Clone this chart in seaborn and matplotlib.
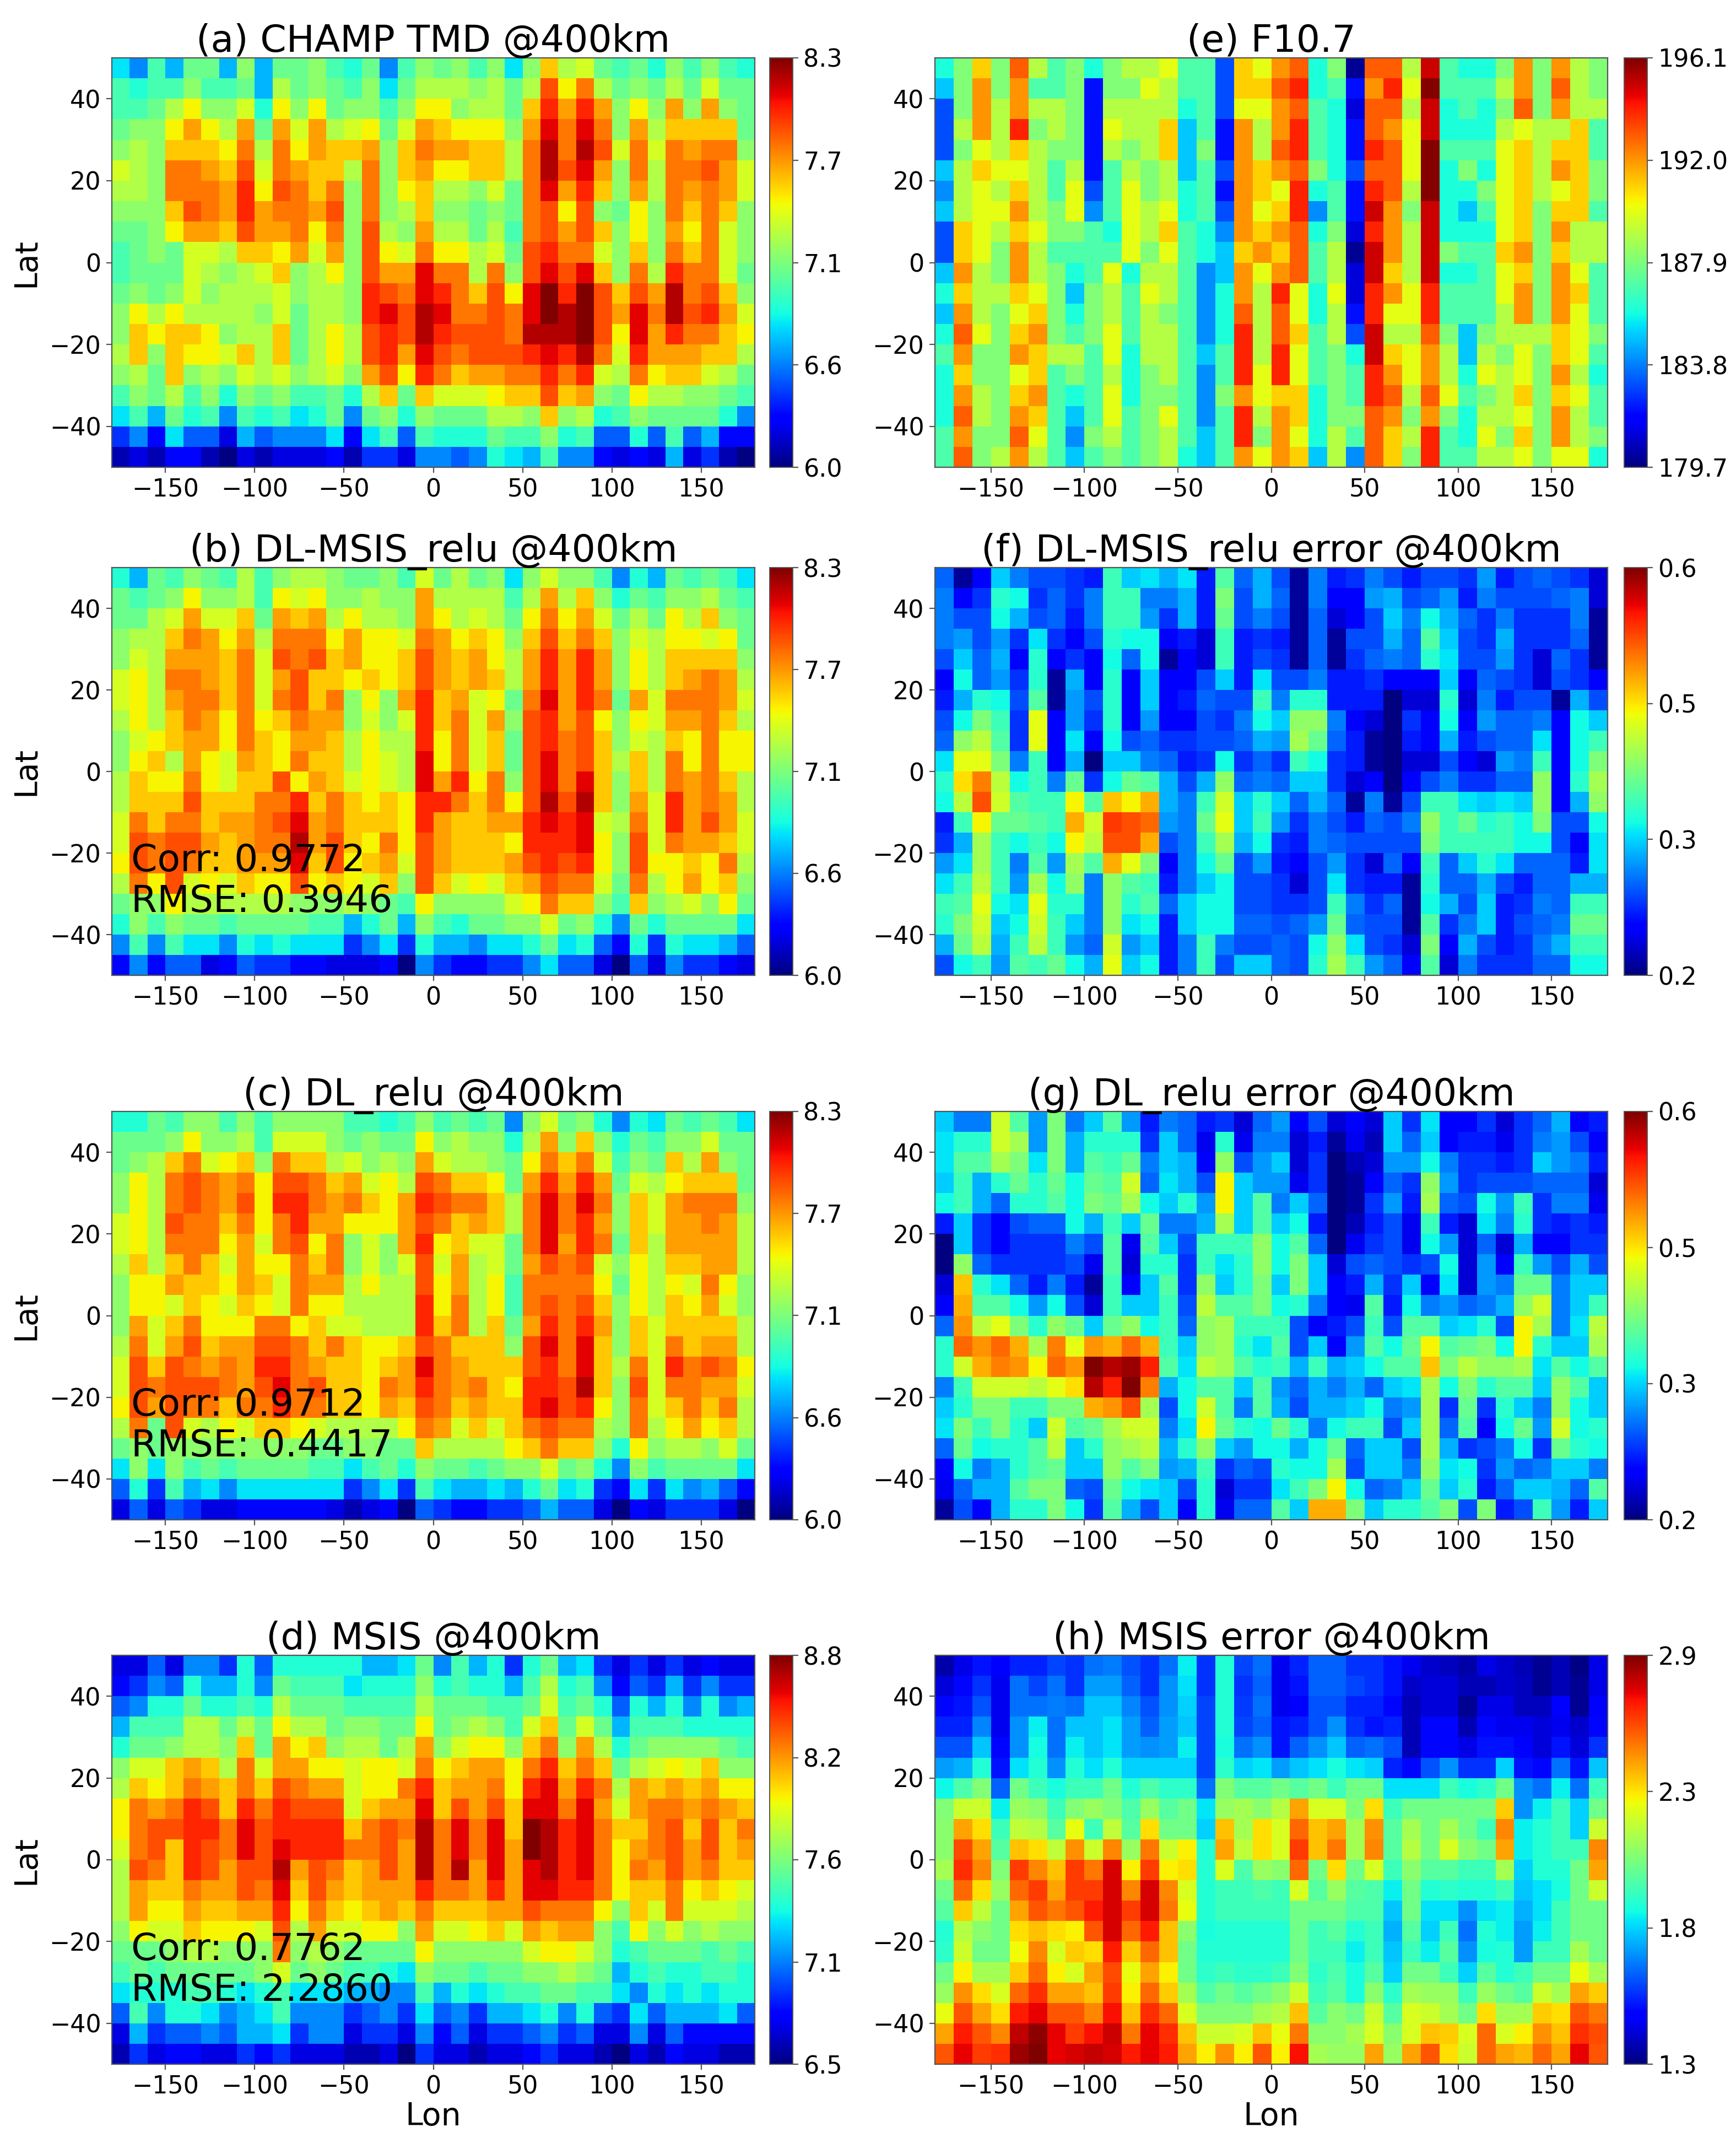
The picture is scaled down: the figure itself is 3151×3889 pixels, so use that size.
import numpy as np
import pandas as pd
import matplotlib
matplotlib.use("Agg")
import matplotlib.pyplot as plt
import seaborn as sns

# cells run from 180W to 180E, top row is 45..50N
lon_cells = list(range(-175, 180, 10))
lat_cells = list(range(475, -500, -50))
lon_ticks = [-150, -100, -50, 0, 50, 100, 150]
lat_ticks = [40, 20, 0, -20, -40]

champ_tmd = [
    [68,66,70,67,71,71,67,72,67,71,71,72,70,69,71,66,70,72,71,72,70,72,68,72,76,73,74,71,70,71,69,72,70,72,70,69],
    [70,69,70,70,72,70,70,71,67,73,71,72,71,70,72,68,71,73,73,73,72,73,71,73,79,75,78,73,71,72,71,73,71,74,71,71],
    [70,70,71,73,75,72,72,74,69,75,72,75,71,72,72,70,72,75,75,72,73,73,71,76,80,77,80,77,72,75,72,77,72,77,72,71],
    [71,72,72,75,77,75,73,77,71,77,74,77,73,74,75,71,74,77,76,75,75,75,72,77,81,78,81,78,72,77,73,76,76,76,76,71],
    [72,73,72,76,76,76,75,78,73,78,75,77,76,76,77,72,76,78,77,77,76,76,73,78,82,78,82,79,74,78,74,78,77,78,78,72],
    [74,73,72,78,78,77,76,79,74,78,77,76,76,73,78,72,76,77,75,75,76,76,73,78,82,79,81,77,72,78,73,78,78,79,77,74],
    [73,73,72,78,78,78,77,80,75,79,78,76,78,72,78,72,75,76,73,73,72,74,71,78,81,77,80,76,72,77,73,78,77,78,77,74],
    [72,72,72,76,79,78,77,80,77,78,78,77,79,72,78,72,73,76,72,72,71,72,71,78,79,75,79,72,71,75,72,78,76,78,76,72],
    [71,71,72,75,77,77,76,79,77,77,78,75,78,72,79,73,72,77,73,73,71,73,70,78,79,77,79,76,72,75,72,77,75,78,74,72],
    [70,71,72,71,74,74,73,76,76,75,77,74,77,72,79,75,74,78,75,75,73,74,71,79,80,78,78,74,72,76,72,78,76,78,74,72],
    [70,71,71,71,74,73,72,73,74,76,72,73,75,72,79,77,77,81,78,78,73,78,72,79,81,79,81,76,72,78,73,80,78,78,74,71],
    [71,72,71,72,74,72,73,73,73,74,72,73,73,72,80,79,78,81,80,78,76,79,75,81,83,80,83,79,76,79,77,82,78,79,76,72],
    [72,75,73,75,73,73,73,73,72,74,71,73,73,72,80,81,79,82,81,78,78,79,78,81,83,82,83,79,77,81,78,82,79,80,77,74],
    [72,76,75,76,76,75,72,73,73,76,71,73,75,73,79,80,79,82,80,79,79,79,78,82,82,82,83,79,75,81,77,80,78,78,76,75],
    [73,76,72,76,75,75,74,76,73,76,71,73,75,73,79,80,77,81,79,78,79,79,79,80,81,80,82,78,74,80,77,77,77,76,76,73],
    [72,73,71,76,72,73,72,74,73,74,72,73,74,72,77,79,75,80,78,76,77,77,78,78,80,78,80,74,73,78,75,76,76,74,73,71],
    [70,72,71,73,70,72,69,72,71,72,70,70,71,69,73,76,71,76,74,74,74,75,76,76,79,76,77,72,71,75,73,73,72,72,71,70],
    [68,70,67,71,69,70,66,70,69,70,68,69,71,66,71,72,69,72,71,71,71,73,73,72,76,72,73,69,70,72,71,71,71,71,69,66],
    [64,66,63,68,65,65,62,67,65,66,66,66,68,63,68,70,65,70,69,69,69,71,70,70,72,69,70,65,65,69,65,70,65,67,63,63],
    [61,62,61,63,63,61,60,62,61,62,62,62,63,61,64,64,62,66,66,65,66,69,68,67,70,66,66,63,62,63,62,67,62,64,61,60],
]

dl_msis = [
    [69,67,71,70,72,71,70,73,70,72,73,73,72,71,71,72,70,74,71,73,71,72,68,72,74,72,72,70,66,69,67,71,70,71,70,68],
    [71,70,71,72,75,72,72,73,70,75,74,75,72,72,73,72,72,77,73,73,73,73,70,73,77,73,76,72,69,71,70,72,72,73,71,70],
    [71,71,73,74,77,74,74,76,71,77,76,77,73,75,73,73,72,77,75,73,74,73,71,75,78,75,77,74,71,73,71,75,73,76,72,71],
    [72,73,73,76,78,77,75,77,73,78,78,78,75,77,75,75,74,78,77,75,76,75,72,76,79,76,78,76,72,74,73,75,75,74,75,71],
    [72,74,73,77,77,77,76,78,74,79,78,79,76,77,75,75,76,79,77,76,77,75,73,77,80,77,80,77,72,75,73,76,76,76,76,72],
    [74,75,73,78,78,77,76,78,74,77,79,76,76,75,76,75,76,79,77,76,77,76,73,77,80,77,80,77,72,75,73,76,77,78,77,73],
    [74,75,73,77,78,78,76,78,74,78,79,76,78,72,75,72,77,80,76,77,74,75,71,78,81,77,80,78,71,77,74,78,78,78,77,74],
    [73,75,73,76,78,77,75,78,75,76,78,77,77,72,74,72,74,80,76,78,74,77,72,79,80,77,79,75,72,75,74,77,77,78,76,73],
    [72,74,75,76,77,77,75,78,76,75,77,77,76,73,75,73,73,80,75,78,74,76,71,79,80,78,79,76,72,74,73,76,75,78,75,75],
    [72,75,76,73,77,75,74,77,76,75,78,76,76,73,75,74,73,81,75,78,74,76,71,79,81,78,79,76,73,76,73,78,75,78,75,75],
    [73,76,75,75,78,75,74,76,76,79,75,77,76,74,75,74,73,81,77,80,75,78,72,79,81,78,81,76,72,76,73,78,77,78,76,73],
    [73,76,76,76,79,76,76,76,78,78,80,76,78,76,75,76,75,80,80,78,76,78,75,79,82,79,82,76,72,77,74,80,77,78,77,73],
    [74,78,76,78,78,76,77,77,78,79,81,77,78,76,76,76,75,80,77,76,76,77,77,80,81,80,81,74,73,78,74,80,77,79,77,74],
    [74,79,78,79,79,77,76,77,78,78,82,77,79,76,75,78,75,79,77,76,76,76,75,80,80,80,81,75,72,79,74,78,77,77,76,74],
    [75,79,78,79,78,76,76,77,77,77,81,76,79,75,76,77,74,79,77,76,76,76,77,79,80,79,80,75,72,79,75,75,76,75,78,73],
    [73,78,75,79,74,75,74,76,75,75,79,75,76,75,74,76,72,79,76,74,75,74,76,77,79,78,78,74,71,78,73,75,77,75,76,72],
    [71,72,72,75,73,73,73,73,73,73,72,72,72,73,72,71,70,75,72,72,72,72,74,75,78,76,76,72,70,76,72,73,74,72,75,71],
    [69,72,70,72,71,71,70,71,71,71,71,70,70,67,69,71,67,72,70,69,71,71,72,72,74,71,72,69,66,71,69,71,71,71,71,68],
    [66,70,66,70,68,68,66,69,68,69,68,68,68,64,66,68,64,69,67,67,66,68,68,69,71,68,69,65,63,69,64,69,68,68,67,65],
    [63,66,63,65,65,62,63,65,64,64,63,63,62,62,62,63,60,66,64,63,63,64,64,66,68,65,65,62,60,65,62,66,64,64,63,62],
]

dl_relu = [
    [69,69,71,70,72,72,70,72,70,72,72,72,72,70,70,69,70,72,70,71,70,71,66,72,74,71,72,69,66,69,68,71,70,71,70,68],
    [71,71,71,72,75,72,72,73,70,74,74,74,72,71,72,71,71,75,72,73,72,72,69,73,77,72,76,72,69,71,70,72,72,74,71,71],
    [71,72,73,76,78,74,75,76,72,78,76,76,73,74,72,73,72,77,74,73,73,72,71,75,78,76,78,74,70,72,71,76,73,77,72,71],
    [72,75,73,78,79,78,77,78,75,79,79,78,76,77,74,75,73,79,78,76,76,75,71,77,80,77,80,77,71,74,73,75,76,76,76,71],
    [72,75,73,78,79,78,77,79,75,80,80,78,77,78,76,75,77,80,79,78,78,76,73,78,81,78,81,78,72,76,74,77,78,78,78,72],
    [74,75,73,79,78,78,76,78,75,78,80,77,77,75,75,75,77,79,78,76,77,76,73,78,81,78,80,77,72,76,74,77,77,78,77,73],
    [74,75,73,78,78,78,75,77,74,78,79,75,78,72,74,72,77,80,75,76,74,74,71,78,81,77,80,78,71,76,73,77,77,77,77,73],
    [73,76,73,76,78,76,74,77,75,75,78,76,78,72,74,72,74,79,74,77,73,74,71,77,79,78,79,74,72,75,73,76,76,77,77,73],
    [72,75,75,77,76,76,75,77,76,74,78,77,77,73,75,73,73,79,75,77,73,75,70,78,78,78,78,75,71,75,73,75,74,78,75,72],
    [72,75,75,74,76,75,74,76,75,74,78,75,75,73,73,73,73,80,75,78,73,75,70,78,79,78,79,76,72,75,73,76,75,77,74,72],
    [72,77,74,76,78,75,75,75,78,78,75,76,74,74,73,73,73,80,76,78,73,76,71,77,80,78,80,77,72,76,74,76,76,76,76,73],
    [73,78,74,77,79,76,77,77,79,79,78,76,78,76,75,75,76,79,78,76,76,76,72,79,81,78,81,76,72,76,74,78,76,77,77,73],
    [74,79,76,79,78,77,78,77,80,80,78,77,76,76,75,76,77,81,78,77,76,76,76,79,80,78,81,76,73,78,74,80,78,79,78,75],
    [74,79,78,79,79,79,78,77,79,81,78,79,76,76,75,78,77,80,78,77,78,76,75,80,80,79,82,76,72,79,74,78,78,77,77,74],
    [75,79,77,79,78,78,76,78,78,80,78,78,76,76,75,77,76,79,78,76,77,76,76,80,81,79,80,75,72,78,74,76,78,76,78,73],
    [73,78,71,79,74,73,75,74,76,76,75,74,73,73,73,73,75,78,77,74,76,74,76,78,79,78,78,73,72,78,73,75,77,75,76,73],
    [71,72,71,72,72,72,72,72,72,72,72,71,71,72,72,71,71,76,73,73,73,73,75,76,78,76,76,72,69,75,72,73,73,72,74,71],
    [68,72,68,72,70,71,70,71,71,71,71,70,70,68,70,71,69,72,71,71,70,71,72,72,74,71,72,69,66,72,70,71,71,71,71,68],
    [65,69,64,70,67,68,66,68,68,68,68,68,68,64,66,68,64,70,68,67,67,68,67,69,71,68,69,64,63,68,64,68,66,67,65,63],
    [62,65,62,65,64,62,62,63,63,63,63,63,62,61,62,63,60,65,64,63,63,64,64,65,67,65,65,62,60,63,62,64,64,64,62,60],
]

msis = [
    [67,67,70,67,71,71,69,74,70,74,74,74,74,74,72,72,73,76,71,75,72,74,69,74,76,72,73,69,67,69,67,69,67,68,67,67],
    [68,69,71,70,74,72,72,74,71,76,75,75,75,73,74,74,74,77,74,75,74,74,72,75,78,74,75,71,68,70,69,72,69,71,69,69],
    [70,71,74,74,76,74,74,75,74,78,76,76,76,75,75,75,75,78,76,76,76,75,75,76,79,75,76,74,70,74,72,74,71,74,71,72],
    [72,75,75,75,78,78,76,78,76,80,78,78,76,77,77,76,76,80,76,77,78,77,75,79,81,76,79,76,72,75,75,75,74,74,74,74],
    [74,76,76,77,78,78,77,81,76,82,80,81,77,78,78,76,78,82,77,79,80,80,77,81,83,77,82,78,74,76,77,77,77,77,76,75],
    [77,79,79,81,82,81,78,83,79,82,82,80,80,79,80,80,79,83,80,81,82,82,80,83,85,81,83,81,76,78,79,80,79,81,77,77],
    [78,81,80,81,83,82,81,83,81,84,83,82,82,79,80,80,83,85,81,82,82,83,80,85,86,82,85,83,78,82,81,82,81,82,80,80],
    [80,83,82,83,85,84,81,85,83,85,84,84,84,79,81,82,82,86,81,84,82,84,81,86,86,83,86,82,79,82,83,83,82,83,82,81],
    [80,83,84,84,85,85,83,86,84,85,85,85,85,81,83,84,83,87,83,86,83,86,81,88,87,85,86,83,81,81,83,84,81,84,81,83],
    [79,83,84,81,85,84,83,86,84,86,85,85,85,83,83,84,82,87,83,86,83,86,82,88,87,85,86,83,80,82,83,84,82,84,81,82],
    [78,84,83,81,85,84,82,84,84,87,82,84,83,81,82,84,82,87,83,87,82,86,82,86,87,85,86,83,80,83,82,84,82,83,81,81],
    [78,82,81,81,83,82,82,84,83,86,81,84,82,81,82,82,82,85,83,83,82,85,82,86,86,85,85,83,80,81,81,83,80,81,80,79],
    [78,82,80,80,82,81,81,82,82,85,80,83,81,80,81,82,81,83,81,81,81,82,82,84,83,83,83,80,77,81,79,83,79,79,79,78],
    [77,80,79,79,81,80,80,80,79,84,78,82,79,79,80,80,77,82,79,79,80,81,79,82,81,82,82,77,75,80,77,79,77,78,77,77],
    [76,76,76,77,78,78,77,77,77,83,77,78,77,76,76,76,76,80,77,77,77,77,77,79,80,80,79,77,74,75,76,76,76,75,76,75],
    [75,76,75,76,76,76,76,76,77,79,76,77,76,75,75,74,73,77,76,76,75,76,76,77,77,78,77,76,72,74,75,74,74,75,75,74],
    [73,74,74,74,75,75,74,73,74,75,73,73,73,72,72,71,71,75,72,74,73,74,75,75,76,76,75,75,73,71,74,73,74,73,74,74],
    [70,75,71,74,74,73,71,72,73,75,71,71,71,69,70,71,69,73,70,71,69,72,72,73,74,71,74,70,69,73,70,72,72,72,73,70],
    [67,72,69,70,70,71,70,72,72,73,69,71,71,67,69,69,67,71,68,70,67,69,69,70,71,69,70,67,67,71,67,70,68,68,68,68],
    [66,69,67,68,68,67,67,69,68,69,67,67,67,66,66,67,65,69,67,67,66,67,67,68,69,67,67,66,65,67,66,68,67,67,66,66],
]

f107 = [
    [186,188,191,188,193,189,187,188,186,188,189,189,190,187,187,183,191,190,192,193,186,188,180,193,193,189,195,187,186,186,188,192,188,192,189,188],
    [185,188,192,188,192,187,187,188,182,188,188,190,189,187,187,183,191,191,193,194,186,187,182,192,194,190,196,187,187,187,189,192,188,193,189,188],
    [183,188,192,189,192,189,189,188,182,189,189,189,189,186,187,183,190,190,192,193,187,186,181,193,193,189,195,186,187,186,188,193,188,192,189,189],
    [183,189,192,189,194,188,189,188,182,190,189,189,191,185,187,182,192,189,192,194,187,186,182,193,192,190,195,186,186,186,189,190,189,189,191,187],
    [183,188,190,189,191,189,188,188,182,189,188,189,191,185,188,182,192,189,193,194,187,186,182,194,193,190,196,187,187,187,190,191,189,191,191,187],
    [185,189,191,190,190,189,187,189,182,187,189,188,189,185,187,183,192,191,192,193,188,186,183,193,193,190,196,186,188,186,190,191,189,192,191,188],
    [184,189,190,189,191,189,187,190,183,187,190,188,189,186,187,182,192,191,190,194,186,187,182,194,193,189,196,186,186,188,190,191,189,190,191,188],
    [185,189,190,190,192,189,188,190,184,187,190,189,190,186,187,183,192,190,191,194,184,187,182,195,192,188,195,186,185,187,190,191,188,191,191,187],
    [183,191,190,189,191,190,188,188,187,186,190,189,191,187,186,184,192,191,192,193,186,188,181,194,192,189,195,186,186,186,190,191,188,192,189,189],
    [183,191,190,188,192,189,187,187,187,187,190,188,190,187,186,185,191,192,191,193,187,189,180,195,192,189,195,188,187,187,191,192,188,191,189,189],
    [185,192,189,188,192,189,188,186,187,190,186,189,189,187,184,185,192,190,192,193,187,189,181,195,191,189,195,186,186,187,190,191,188,192,190,187],
    [186,191,189,189,191,190,188,185,188,189,187,190,189,187,184,186,192,189,194,190,186,190,181,194,192,190,194,187,187,187,190,192,188,192,191,187],
    [185,192,189,188,190,191,188,186,188,189,187,189,188,187,184,186,193,189,193,190,186,189,182,194,190,190,194,187,187,187,189,192,188,192,190,187],
    [186,193,190,188,191,192,188,187,188,190,187,189,189,187,184,186,194,189,193,191,187,189,183,195,189,189,193,188,185,188,189,189,189,191,190,188],
    [187,192,188,188,192,191,189,189,187,190,186,189,189,187,185,187,194,189,194,190,187,188,186,195,191,190,192,189,185,189,188,190,188,191,190,187],
    [186,191,188,188,190,191,187,188,187,189,186,188,189,187,184,187,194,190,194,190,187,188,187,194,192,190,192,189,186,190,189,190,188,192,189,186],
    [186,192,189,188,191,192,187,186,187,190,186,188,188,187,184,188,192,190,191,191,186,188,187,194,193,189,193,190,187,188,189,191,188,191,190,187],
    [186,193,189,188,192,191,187,185,187,190,187,188,190,187,184,187,194,189,192,191,186,188,188,193,192,188,192,188,186,189,189,190,188,192,189,187],
    [187,192,188,188,193,190,187,184,188,189,187,188,189,187,185,187,194,188,192,190,186,189,187,193,191,189,194,187,186,190,188,191,188,192,189,188],
    [187,193,188,189,192,189,187,185,187,188,187,188,189,186,185,187,192,190,192,191,185,189,184,193,191,188,194,187,187,189,189,190,188,190,190,186],
]

dl_msis_err = [
    [29,21,25,33,30,28,28,27,26,37,33,34,32,34,26,38,29,32,28,21,30,26,27,30,28,26,28,28,27,31,26,28,29,28,27,23],
    [30,25,27,36,35,27,29,27,30,37,37,30,30,32,26,40,28,32,29,21,30,25,25,31,32,28,29,31,26,30,28,28,28,29,30,23],
    [30,28,28,35,32,28,29,26,30,37,37,31,27,32,26,39,28,30,28,21,29,23,25,28,33,30,35,32,29,27,30,27,27,27,30,21],
    [30,31,28,31,27,34,27,25,28,36,35,35,25,26,23,37,26,27,26,21,29,21,28,28,32,29,38,33,28,27,32,27,27,27,29,21],
    [28,33,29,32,25,36,25,27,25,35,29,35,21,25,23,37,26,28,27,21,29,21,27,29,30,29,36,34,28,28,31,27,23,29,27,21],
    [25,35,29,31,27,36,21,32,25,36,25,33,25,25,28,33,26,34,28,28,30,26,26,27,25,25,25,33,25,29,28,27,23,28,27,25],
    [26,32,36,35,28,38,21,31,28,36,25,33,25,26,29,28,28,37,30,36,36,26,26,26,20,23,23,36,23,30,26,28,28,21,32,28],
    [28,35,40,37,27,45,25,31,27,36,25,31,25,25,28,27,30,35,33,41,41,30,25,23,20,27,25,35,25,31,29,29,30,25,35,33],
    [29,41,43,38,27,45,25,34,25,35,28,29,27,27,28,28,29,32,31,42,39,29,26,21,20,26,25,32,26,28,29,29,34,25,35,37],
    [34,45,45,40,30,37,25,32,20,33,33,30,29,26,27,35,27,29,27,37,35,27,26,21,20,23,23,28,25,23,31,30,37,25,35,40],
    [36,47,51,43,35,37,30,39,27,35,39,38,32,28,32,41,29,30,29,33,33,27,23,25,20,25,28,30,27,27,29,29,41,25,36,42],
    [35,43,53,44,38,37,37,46,38,48,46,49,32,30,37,44,33,36,33,29,32,29,21,30,21,28,37,37,34,33,34,33,41,25,32,41],
    [26,37,46,39,39,38,37,49,44,54,53,52,31,30,39,45,33,37,31,27,30,28,26,29,28,30,41,37,39,36,37,35,40,28,28,35],
    [27,32,42,37,35,37,35,46,43,53,53,49,28,30,37,42,32,35,27,26,30,29,28,28,28,28,40,37,37,37,37,35,35,28,25,34],
    [31,34,42,37,30,38,31,42,38,49,45,40,25,30,35,39,28,31,26,25,28,31,27,23,29,25,37,29,33,36,34,29,29,29,26,34],
    [34,37,43,37,31,42,35,41,30,41,38,37,26,30,33,35,28,28,27,23,28,34,27,26,26,21,36,29,29,32,28,26,29,29,32,32],
    [37,38,45,35,34,45,36,36,30,41,36,38,29,33,35,35,28,28,27,27,28,37,30,27,29,21,35,32,28,33,26,27,30,29,37,37],
    [36,40,44,33,35,44,37,33,30,41,34,35,26,33,35,35,29,29,28,29,31,39,29,28,28,21,38,27,30,33,26,28,29,30,39,39],
    [32,39,43,32,37,43,37,31,29,44,31,33,26,30,37,30,28,28,29,28,35,41,34,28,27,23,40,25,32,28,26,27,30,32,37,37],
    [28,35,37,31,38,37,39,35,32,45,33,35,26,30,37,28,33,33,29,28,36,42,37,31,29,25,38,23,30,27,27,27,29,29,35,35],
]

dl_relu_err = [
    [33,30,30,44,38,31,40,30,33,38,31,26,30,29,26,27,23,29,31,25,28,23,25,23,33,27,34,25,25,27,23,27,29,32,25,26],
    [34,36,36,44,42,31,40,32,36,36,36,27,33,29,24,36,24,30,30,23,26,21,24,22,33,29,33,25,26,26,24,27,30,31,28,25],
    [34,38,38,42,40,34,40,32,38,37,39,30,33,32,25,41,28,31,33,23,27,20,22,23,31,31,35,30,27,27,26,27,33,31,30,26],
    [33,37,32,36,39,36,39,35,39,38,44,29,34,32,28,46,33,31,31,24,27,20,21,25,29,27,41,31,27,28,28,28,29,29,29,23],
    [35,37,32,29,36,36,38,35,40,39,42,35,33,36,31,46,33,38,30,33,29,20,21,27,31,26,42,29,28,35,31,37,27,30,30,24],
    [26,33,27,25,28,29,29,35,32,37,33,39,30,30,32,42,33,38,33,35,26,20,22,26,28,24,37,26,23,34,30,36,27,26,27,26],
    [20,33,27,25,27,27,27,30,28,38,24,38,33,28,37,37,37,41,35,38,29,20,24,27,28,24,35,31,23,29,23,32,25,25,27,27],
    [20,41,29,27,27,27,27,28,24,38,23,36,36,27,37,34,36,41,35,40,33,23,28,29,28,27,28,35,23,31,25,37,31,28,32,28],
    [23,48,36,34,29,26,30,26,21,37,25,33,38,27,41,33,36,40,33,40,33,25,26,32,27,33,25,34,23,31,30,39,39,30,33,33],
    [25,49,38,38,35,31,35,28,23,37,33,33,37,28,43,38,38,40,35,36,30,25,24,38,26,35,30,31,29,30,32,41,44,30,33,37],
    [29,50,43,45,40,36,41,39,33,39,41,35,37,29,41,42,37,37,37,28,25,26,28,37,28,38,38,33,34,36,28,46,42,30,34,43],
    [36,52,50,52,49,42,51,45,50,49,52,49,37,33,41,42,36,34,38,28,33,25,31,38,35,39,46,38,39,40,35,46,36,33,33,42],
    [36,44,49,51,50,46,52,50,60,58,59,55,38,34,43,42,38,36,37,32,37,32,33,35,38,38,48,40,43,41,41,42,34,38,35,38],
    [30,37,44,44,44,43,45,47,58,55,60,51,32,35,38,38,33,38,31,29,32,30,32,29,33,34,42,35,40,36,38,38,33,41,38,33],
    [33,36,40,40,37,37,40,40,49,50,53,42,28,35,44,38,30,38,32,28,32,32,33,35,30,31,42,27,39,27,36,33,30,41,35,33],
    [34,40,37,40,36,33,44,38,39,42,44,44,30,34,46,39,36,35,39,36,30,35,37,37,28,33,42,29,38,25,35,39,31,44,35,36],
    [29,39,35,36,36,38,43,33,36,41,42,43,32,36,41,33,31,35,35,32,35,39,29,33,33,28,42,32,27,28,30,35,27,39,36,35],
    [25,35,30,32,36,38,39,33,33,41,38,40,31,32,37,27,29,28,36,35,35,42,28,33,33,30,41,34,35,27,31,29,30,33,33,30],
    [24,29,32,32,38,40,40,29,28,39,35,34,33,28,36,23,27,27,34,37,40,46,35,29,30,33,39,33,36,26,29,33,33,32,29,38],
    [21,28,25,32,36,36,40,35,27,38,32,28,33,25,36,24,29,29,38,33,49,49,40,33,36,36,38,40,28,40,26,28,37,31,26,33],
]

msis_err = [
    [133,142,150,145,152,152,158,155,165,167,160,155,165,185,155,190,158,164,143,152,162,162,155,155,150,143,138,136,133,142,138,135,130,135,128,142],
    [140,148,155,143,165,158,165,155,172,172,162,155,170,182,155,190,155,162,143,150,162,162,158,155,150,137,140,140,135,135,138,136,130,135,130,142],
    [148,150,160,143,165,165,167,165,178,178,168,160,170,180,158,190,156,165,143,145,160,160,152,152,148,135,140,140,130,142,142,136,136,145,130,145],
    [152,152,168,143,170,185,165,178,178,183,172,162,172,178,158,190,158,162,150,152,160,170,155,150,152,135,148,148,134,148,143,143,140,143,138,148],
    [160,160,178,148,170,187,165,185,178,183,172,170,172,185,158,188,165,170,150,162,170,178,162,165,160,135,148,148,142,150,150,145,140,150,140,155],
    [172,175,190,150,182,190,170,190,182,190,180,180,180,180,158,192,180,183,172,178,182,188,183,180,152,148,160,170,155,155,180,150,148,165,150,178],
    [186,198,208,162,205,195,188,195,195,205,190,198,192,192,165,208,200,200,205,200,205,195,205,205,182,182,182,195,188,192,205,170,165,185,165,195],
    [208,222,222,185,212,210,195,208,212,208,198,212,200,205,183,212,215,210,218,245,225,225,208,235,195,205,205,205,205,205,238,170,185,195,180,205],
    [210,245,235,195,220,218,200,228,195,220,200,235,205,205,180,240,215,235,225,255,240,245,215,248,200,215,205,215,205,195,250,185,190,195,180,222],
    [210,260,245,200,240,235,220,248,222,250,212,252,222,232,190,245,220,235,225,262,240,252,215,250,200,218,205,225,210,205,245,185,190,195,195,250],
    [215,265,250,208,262,250,240,262,252,275,232,262,232,235,190,225,198,212,210,255,205,235,205,225,195,210,200,200,195,195,215,180,190,190,205,245],
    [205,255,235,212,255,262,245,262,262,275,250,275,250,225,190,195,195,198,195,225,200,212,200,198,185,205,190,192,190,190,195,178,182,188,205,222],
    [200,238,220,205,245,258,252,258,268,275,262,275,252,228,190,195,195,195,195,205,205,205,198,198,178,205,182,182,170,182,185,175,182,195,205,205],
    [190,218,210,205,235,240,235,232,258,275,255,268,240,210,188,190,190,190,190,205,195,200,190,195,175,200,180,195,165,190,185,172,185,195,205,205],
    [192,222,205,205,230,250,225,238,235,268,238,255,240,205,190,190,190,190,190,205,195,195,185,195,178,195,185,200,170,188,190,172,195,195,215,205],
    [205,232,215,215,238,255,232,225,245,260,228,245,232,205,192,195,192,192,195,208,192,198,188,200,180,205,205,195,180,200,190,195,205,205,228,215],
    [212,248,235,225,255,265,245,245,240,262,232,255,238,215,198,205,200,205,210,222,195,200,188,210,192,215,212,212,195,212,205,200,222,215,245,238],
    [228,258,245,235,268,272,258,258,250,270,240,265,255,225,208,208,208,215,218,240,200,210,205,222,200,225,222,215,205,235,215,215,238,235,258,252],
    [245,268,258,250,278,285,272,262,270,276,252,272,265,240,222,222,225,240,228,252,210,210,215,225,210,225,240,238,225,255,225,232,248,240,265,260],
    [258,272,262,265,283,287,272,275,277,275,268,272,268,245,232,248,232,258,232,270,215,212,212,245,212,245,258,235,222,255,245,242,255,245,272,258],
]

W, H = 3151, 3889
left_x = (203, 1370, 1397, 1439)
right_x = (1697, 2918, 2948, 2990)
row_y = [(105, 848), (1030, 1770), (2017, 2758), (3004, 3746)]

# title, data, divisor, vmin, vmax, colorbar labels, column, row, score text
panels = [
    ("(a) CHAMP TMD @400km", champ_tmd, 10, 6.0, 8.3, ["6.0", "6.6", "7.1", "7.7", "8.3"], 0, 0, None),
    ("(b) DL-MSIS_relu @400km", dl_msis, 10, 6.0, 8.3, ["6.0", "6.6", "7.1", "7.7", "8.3"], 0, 1, ("0.9772", "0.3946")),
    ("(c) DL_relu @400km", dl_relu, 10, 6.0, 8.3, ["6.0", "6.6", "7.1", "7.7", "8.3"], 0, 2, ("0.9712", "0.4417")),
    ("(d) MSIS @400km", msis, 10, 6.5, 8.8, ["6.5", "7.1", "7.6", "8.2", "8.8"], 0, 3, ("0.7762", "2.2860")),
    ("(e) F10.7", f107, 1, 179.7, 196.1, ["179.7", "183.8", "187.9", "192.0", "196.1"], 1, 0, None),
    ("(f) DL-MSIS_relu error @400km", dl_msis_err, 100, 0.2, 0.6, ["0.2", "0.3", "0.5", "0.6"], 1, 1, None),
    ("(g) DL_relu error @400km", dl_relu_err, 100, 0.2, 0.6, ["0.2", "0.3", "0.5", "0.6"], 1, 2, None),
    ("(h) MSIS error @400km", msis_err, 100, 1.27, 2.87, ["1.3", "1.8", "2.3", "2.9"], 1, 3, None),
]

sns.set_style("white")
plt.rcParams["font.family"] = ["DejaVu Sans"]
plt.rcParams["text.color"] = "black"
plt.rcParams["axes.labelcolor"] = "black"
plt.rcParams["xtick.labelcolor"] = "black"
plt.rcParams["ytick.labelcolor"] = "black"

fig = plt.figure(figsize=(W / 100, H / 100), dpi=100)

for title, rows, div, vmin, vmax, bar_labels, col, row, score in panels:
    x0, x1, cx0, cx1 = left_x if col == 0 else right_x
    y0, y1 = row_y[row]
    ax = fig.add_axes([x0 / W, 1 - y1 / H, (x1 - x0) / W, (y1 - y0) / H])
    cax = fig.add_axes([cx0 / W, 1 - y1 / H, (cx1 - cx0) / W, (y1 - y0) / H])

    df = pd.DataFrame(np.array(rows) / div, index=lat_cells, columns=lon_cells)
    sns.heatmap(df, ax=ax, cbar_ax=cax, cmap="jet", vmin=vmin, vmax=vmax,
                xticklabels=False, yticklabels=False)

    ax.set_xticks([(v + 180) / 10 for v in lon_ticks])
    ax.set_xticklabels([str(v).replace("-", "\u2212") for v in lon_ticks])
    ax.set_yticks([(50 - v) / 5 for v in lat_ticks])
    ax.set_yticklabels([str(v).replace("-", "\u2212") for v in lat_ticks], rotation=0)
    ax.tick_params(labelsize=32, length=7, width=1.6, color="#555555", pad=7,
                   bottom=True, left=True)
    for spine in ax.spines.values():
        spine.set_visible(True)
        spine.set_color("#555555")
        spine.set_linewidth(1.6)
    ax.set_title(title, fontsize=49, pad=8)

    if col == 0:
        ax.set_ylabel("Lat", fontsize=41, labelpad=10)
    if row == 3:
        ax.set_xlabel("Lon", fontsize=41, labelpad=4)
    if score:
        ax.text(0.03, 0.255, "Corr: " + score[0], transform=ax.transAxes, fontsize=49)
        ax.text(0.03, 0.155, "RMSE: " + score[1], transform=ax.transAxes, fontsize=49)

    cax.set_yticks(np.linspace(vmin, vmax, len(bar_labels)))
    cax.set_yticklabels(bar_labels)
    cax.tick_params(labelsize=32, length=7, width=1.6, color="#555555", pad=7, right=True)
    for spine in cax.spines.values():
        spine.set_visible(True)
        spine.set_color("#555555")
        spine.set_linewidth(1.2)

fig.savefig("out.png", dpi=100)
